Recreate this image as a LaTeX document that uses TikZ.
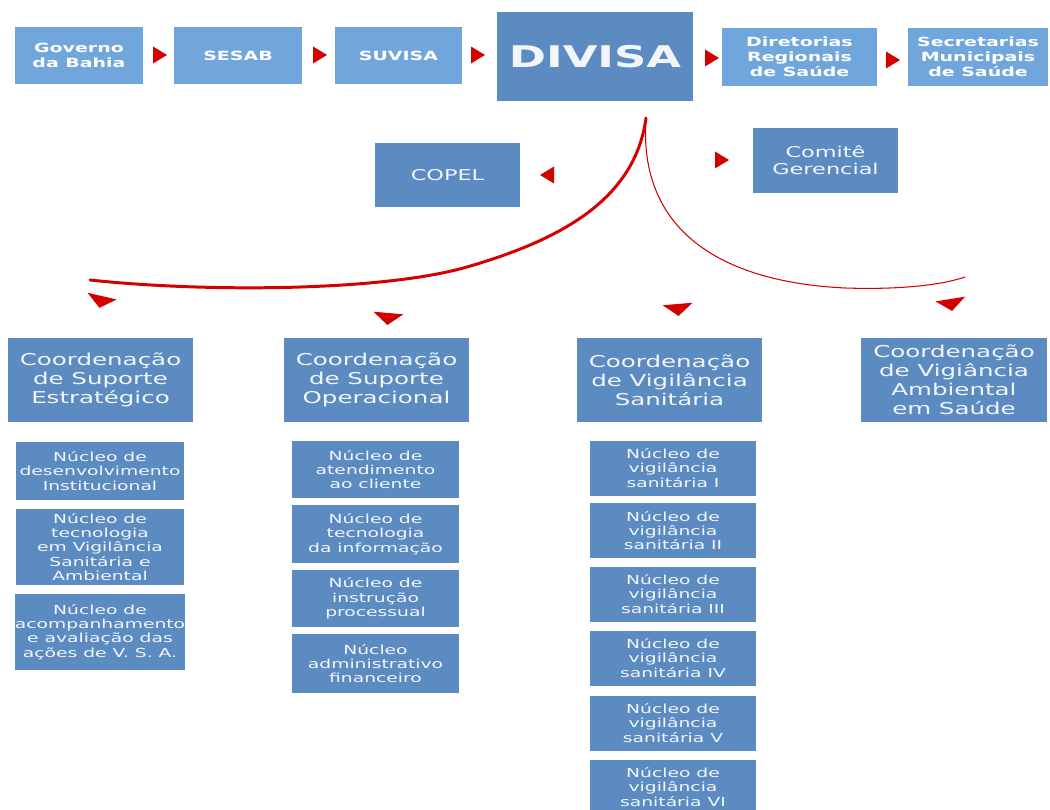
\documentclass[tikz,border=0pt]{standalone}
\usepackage{fontspec}
\setmainfont{DejaVu Sans}[FakeStretch=1.5]
\definecolor{divlight}{RGB}{112,166,219}
\definecolor{divblue}{RGB}{91,139,192}
\definecolor{divred}{RGB}{212,0,0}
\definecolor{divtext}{RGB}{242,246,251}
\usetikzlibrary{calc}
\tikzset{
  sz/.style 2 args={minimum width=#1*0.02cm,minimum height=#2*0.02cm},
  topbox/.style={rectangle,fill=divlight,text=white,inner sep=0pt,
                 font=\bfseries\fontsize{7.2}{8.6}\selectfont,align=center},
  headbox/.style={rectangle,fill=divblue,text=divtext,inner sep=0pt,
                  font=\bfseries\fontsize{17}{20}\selectfont},
  midbox/.style={rectangle,fill=divblue,text=divtext,inner sep=0pt,
                 font=\fontsize{8.5}{9.8}\selectfont,align=center},
  coordbox/.style={rectangle,fill=divblue,text=divtext,inner sep=0pt,
                   font=\fontsize{9.3}{10.8}\selectfont,align=center},
  nucbox/.style={rectangle,fill=divblue,text=divtext,inner sep=0pt,
                 font=\fontsize{7.1}{8.1}\selectfont,align=center},
  forkline/.style={divred,line cap=round},
  tipr/.pic={\fill[divred] (-7,-8.5) -- (7,0) -- (-7,8.5) -- cycle;},
  tipd/.pic={\fill[divred] (-15,-5) -- (15,-5) -- (0,7) -- cycle;},
}
\begin{document}
\begin{tikzpicture}[x=0.02cm,y=-0.02cm]
  \useasboundingbox (0,0) rectangle (1050,810);

  % top row
  \node[topbox,sz={128}{57}] (gov) at (79,55.5) {Governo\\da Bahia};
  \node[topbox,sz={128}{57}] (sesab) at (238,55.5) {SESAB};
  \node[topbox,sz={127}{57}] (suvisa) at (398.5,55.5) {SUVISA};
  \node[headbox,sz={196}{89}] (divisa) at (595,56.5) {DIVISA};
  \node[topbox,sz={155}{58}] (dires) at (799.5,57) {Diretorias\\Regionais\\de Saúde};
  \node[topbox,sz={140}{58}] (sms) at (978,57) {Secretarias\\Municipais\\de Saúde};
  \foreach \x/\y in {160/55,320/55,478/55,712/58,893/60}
    \pic at (\x,\y) {tipr};

  % advisory bodies
  \node[midbox,sz={145}{64}] (copel) at (447.5,175) {COPEL};
  \node[midbox,sz={145}{65}] (comite) at (825.5,160.5) {Comitê\\Gerencial};
  \pic[rotate=180] at (547,175) {tipr};
  \pic at (722,160) {tipr};

  % branching curves
  \coordinate (fork) at (646,118);
  \coordinate (lend) at (90,280);
  \coordinate (rend) at (965,277);
  \draw[forkline,line width=1.7pt] (fork) .. controls (635,200) and (560,240) .. (467,267)
       .. controls (380,292) and (200,292) .. (lend);
  \draw[forkline,line width=0.6pt] (fork) .. controls (638,230) and (720,282) .. (845,288)
       .. controls (905,290) and (945,284) .. (rend);
  \pic[rotate=-13] at (101,301) {tipd};
  \pic[rotate=-5] at (388,318) {tipd};
  \pic[rotate=5] at (678,309) {tipd};
  \pic[rotate=9] at (951,304) {tipd};

  % coordinations
  \node[coordbox,sz={185}{84}] (cse) at (100.5,380) {Coordenação\\de Suporte\\Estratégico};
  \node[coordbox,sz={185}{84}] (cso) at (376.5,380) {Coordenação\\de Suporte\\Operacional};
  \node[coordbox,sz={185}{84}] (cvs) at (669.5,380) {Coordenação\\de Vigilância\\Sanitária};
  \node[coordbox,sz={186}{84}] (cvas) at (954,380) {Coordenação\\de Vigiância\\Ambiental\\em Saúde};

  % nuclei under CSE
  \node[nucbox,sz={168}{58}] (ndi) at (100,471) {Núcleo de\\desenvolvimento\\Institucional};
  \node[nucbox,sz={168}{76}] (ntv) at (100,547) {Núcleo de\\tecnologia\\em Vigilância\\Sanitária e\\Ambiental};
  \node[nucbox,sz={168}{76}] (naa) at (100,632) {Núcleo de\\acompanhamento\\e avaliação das\\ações de V. S. A.};

  % nuclei under CSO
  \node[nucbox,sz={167}{57}] (nac) at (375.5,469.5) {Núcleo de\\atendimento\\ao cliente};
  \node[nucbox,sz={167}{58}] (nti) at (375.5,534) {Núcleo de\\tecnologia\\da informação};
  \node[nucbox,sz={167}{57}] (nip) at (375.5,598.5) {Núcleo de\\instrução\\processual};
  \node[nucbox,sz={167}{59}] (naf) at (375.5,663.5) {Núcleo\\administrativo\\financeiro};

  % nuclei under CVS
  \foreach \i/\r/\y in {1/I/468,2/II/530.5,3/III/594,4/IV/658,5/V/723,6/VI/787}
    \node[nucbox,sz={166}{55}] (nvs\i) at (673,\y) {Núcleo de\\vigilância\\sanitária \r};
\end{tikzpicture}
\end{document}
